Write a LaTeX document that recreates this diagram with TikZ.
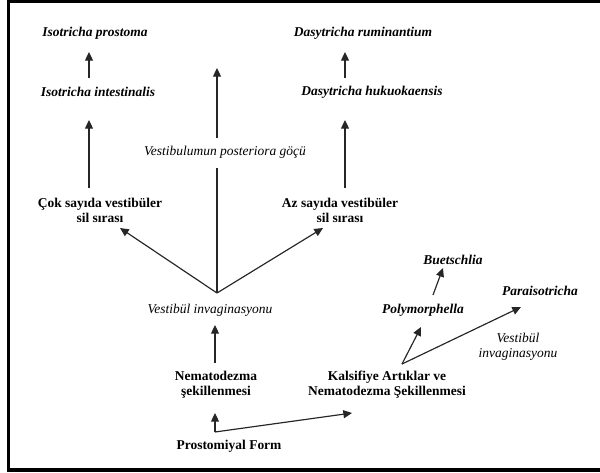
\documentclass[tikz,border=0pt]{standalone}
\usepackage{fontspec}
\setmainfont{Liberation Serif}
\usetikzlibrary{arrows.meta,calc}
\tikzset{
  >={Triangle[length=2.6mm,width=2.4mm]},
  species/.style={font=\fontsize{11.5}{12.75}\selectfont\bfseries\itshape,inner sep=1pt},
  stage/.style={font=\fontsize{11.5}{12.75}\selectfont\bfseries,align=center,inner sep=1pt},
  process/.style={font=\fontsize{11.5}{12.75}\selectfont\itshape,align=center,inner sep=1pt},
  link/.style={->,line width=1pt,draw=black!85},
  plain link/.style={line width=1pt,draw=black!85},
}

\begin{document}
\begin{tikzpicture}[x=0.03cm,y=-0.03cm]
  \useasboundingbox (0,0) rectangle (600,472);
  \draw[line width=2.6pt] (600,1.5) -- (8.5,1.5) -- (8.5,470) -- (600,470);

  % Isotricha branch
  \node[species] (iprost) at (95,33) {Isotricha prostoma};
  \node[species] (iint) at (98,92) {Isotricha intestinalis};
  \node[stage] (cok) at (100,210) {Çok sayıda vestibüler\\sil sırası};

  % Dasytricha branch
  \node[species] (drum) at (363,33) {Dasytricha ruminantium};
  \node[species] (dhuk) at (372,92) {Dasytricha hukuokaensis};
  \node[stage] (az) at (340,210) {Az sayıda vestibüler\\sil sırası};

  % middle
  \node[process] (post) at (225,152) {Vestibulumun posteriora göçü};
  \node[process] (vinv) at (210,310) {Vestibül invaginasyonu};
  \node[stage] (nema) at (216,385) {Nematodezma\\şekillenmesi};
  \node[stage] (pf) at (229,446) {Prostomiyal Form};
  \coordinate (apex) at (217,293);
  \coordinate (midtop) at (217,68);
  \coordinate (fork) at ($(pf)+(-14,-14)$);

  % right group
  \node[stage] (kalsif) at (387,385) {Kalsifiye Artıklar ve\\Nematodezma Şekillenmesi};
  \node[species] (poly) at (423,310) {Polymorphella};
  \node[species] (buet) at (453,260) {Buetschlia};
  \node[species] (para) at (540,291) {Paraisotricha};
  \node[process] (vinv2) at (518,347) {Vestibül\\invaginasyonu};

  % connectors
  \draw[link] ($(iint)+(-9,-14)$) -- ($(iprost)+(-6,19)$);
  \draw[link] ($(cok)+(-11,-22)$) -- ($(iint)+(-9,28)$);
  \draw[link] (apex) -- ($(cok)+(20,18)$);
  \draw[link] (apex) -- ($(az)+(-17,18)$);
  \draw[link] ($(az)+(5,-22)$) -- ($(dhuk)+(-27,28)$);
  \draw[link] ($(dhuk)+(-27,-14)$) -- ($(drum)+(-18,19)$);
  \draw[plain link] (apex) -- ($(post)+(-8,16)$);
  \draw[link] ($(post)+(-8,-14)$) -- (midtop);
  \draw[link] ($(nema)+(-1,-22)$) -- ($(vinv)+(5,15)$);
  \draw[link] (fork) -- ($(nema)+(-1,28)$);
  \draw[link] (fork) -- ($(kalsif)+(-35,28)$);
  \draw[link] ($(kalsif)+(15,-21)$) -- ($(poly)+(-2,17)$);
  \draw[link] ($(kalsif)+(15,-21)$) -- ($(para)+(-19,16)$);
  \draw[link] ($(poly)+(10,-15)$) -- ($(buet)+(-10,8)$);
\end{tikzpicture}
\end{document}
